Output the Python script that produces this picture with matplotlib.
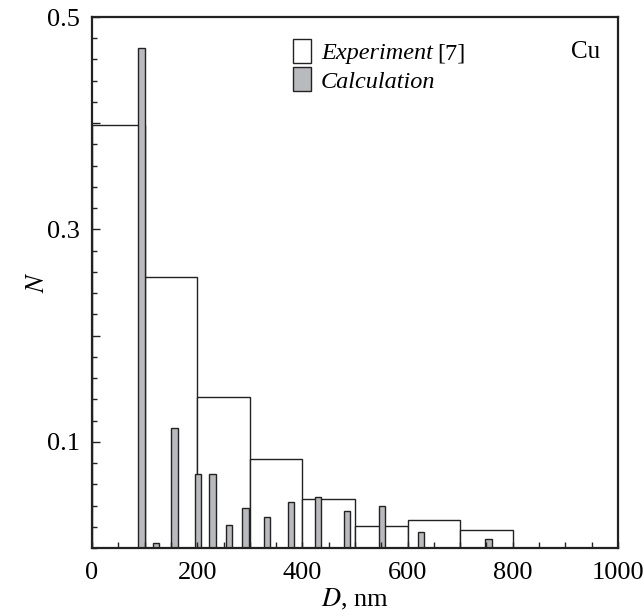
import matplotlib
matplotlib.use("Agg")
import matplotlib.pyplot as plt
from matplotlib.ticker import MultipleLocator, FixedLocator

plt.rcParams['font.family'] = ['Liberation Serif', 'DejaVu Serif']
plt.rcParams['mathtext.fontset'] = 'stix'

# Experiment [7]: histogram bins of 100 nm
exp_left = [0, 100, 200, 300, 400, 500, 600, 700]
exp_n = [0.398, 0.2555, 0.1424, 0.0838, 0.0462, 0.0207, 0.0264, 0.0174]

# Calculation: narrow bars
calc_d = [94, 121, 157, 201, 229, 260, 292, 333, 378, 430, 485, 551, 625, 754]
calc_n = [0.4705, 0.0047, 0.113, 0.070, 0.070, 0.0212, 0.0376, 0.0288,
          0.0433, 0.048, 0.0345, 0.040, 0.0146, 0.0085]

fig = plt.figure(figsize=(6.44, 6.16), dpi=100)
ax = fig.add_axes([0.1429, 0.1104, 0.8167, 0.862])

b1 = ax.bar(exp_left, exp_n, width=100, align='edge', facecolor='white',
            edgecolor='#222222', linewidth=1.0, label='Experiment')
b2 = ax.bar(calc_d, calc_n, width=12, facecolor='#b9babd',
            edgecolor='#222222', linewidth=1.0, label='Calculation')

ax.set_xlim(0, 1000)
ax.set_ylim(0, 0.5)

ax.xaxis.set_major_locator(MultipleLocator(200))
ax.xaxis.set_minor_locator(MultipleLocator(50))
ax.yaxis.set_major_locator(FixedLocator([0.1, 0.2, 0.3, 0.4, 0.5]))
ax.set_yticklabels(['0.1', '', '0.3', '', '0.5'])
ax.yaxis.set_minor_locator(MultipleLocator(0.02))

ax.tick_params(which='both', direction='in', labelsize=19, width=1.0,
               color='#222222')
ax.tick_params(axis='x', which='both', length=4, pad=10)
ax.tick_params(axis='y', which='major', length=6, pad=9)
ax.tick_params(axis='y', which='minor', length=3.5)

for s in ax.spines.values():
    s.set_linewidth(1.6)
    s.set_color('#222222')

ax.set_xlabel('$D$, nm', fontsize=19, labelpad=2)
ax.set_ylabel('$N$', fontsize=19, labelpad=-2)

leg = ax.legend(handles=[b1, b2], loc='upper left',
                bbox_to_anchor=(0.345, 0.995), frameon=False,
                prop={'family': 'Liberation Serif', 'style': 'italic',
                      'size': 17.5},
                handlelength=0.74, handleheight=1.15, labelspacing=0.12,
                handletextpad=0.42, borderpad=0.3)

# upright reference "[7]" right after the italic legend label
fig.canvas.draw()
bb = leg.get_texts()[0].get_window_extent()
fig.text((bb.x1 + 4) / fig.bbox.width, bb.y0 / fig.bbox.height, '[7]',
         fontsize=17.5, ha='left', va='bottom')

ax.text(0.966, 0.955, 'Cu', transform=ax.transAxes, ha='right', va='top',
        fontsize=18)

fig.savefig('out.png', dpi=100)
